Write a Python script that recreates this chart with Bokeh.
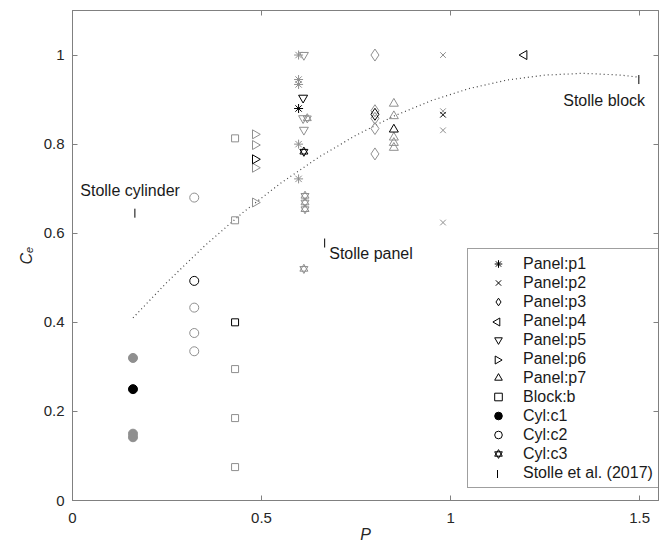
import numpy as np
from bokeh.plotting import figure
from bokeh.models import (Range1d, LinearAxis, Legend, LegendItem, Label,
                          FixedTicker, CustomJSTickFormatter)
from bokeh.embed import file_html
from bokeh.resources import INLINE

FONT = "Liberation Sans"
GRAY = "#8f8f8f"
BLACK = "#000000"
AXC = "#808080"

# ---------------- data ----------------
x_ticks = [0, 0.5, 1, 1.5]
x_tick_labels = ["0", "0.5", "1", "1.5"]
y_ticks = [0, 0.2, 0.4, 0.6, 0.8, 1.0]
y_tick_labels = ["0", "0.2", "0.4", "0.6", "0.8", "1"]

# Panel:p1 (asterisk)
p1_x = [0.598, 0.598, 0.598, 0.598, 0.598]
p1_y = [1.0, 0.945, 0.934, 0.80, 0.722]
p1_mx = [0.598]
p1_my = [0.88]
# Panel:p2 (x)
p2_x = [0.98, 0.98, 0.98, 0.98]
p2_y = [1.0, 0.874, 0.831, 0.624]
p2_mx = [0.98]
p2_my = [0.866]
# Panel:p3 (diamond)
p3_x = [0.80, 0.80, 0.80, 0.80, 0.80]
p3_y = [1.0, 0.875, 0.858, 0.835, 0.778]
p3_mx = [0.80]
p3_my = [0.867]
# Panel:p4 (left triangle)
p4_mx = [1.195]
p4_my = [1.0]
# Panel:p5 (down triangle)
p5_x = [0.612, 0.610, 0.612]
p5_y = [1.0, 0.858, 0.832]
p5_mx = [0.610]
p5_my = [0.904]
# Panel:p6 (right triangle)
p6_x = [0.483, 0.483, 0.483, 0.483]
p6_y = [0.822, 0.798, 0.747, 0.669]
p6_mx = [0.483]
p6_my = [0.766]
# Panel:p7 (up triangle)
p7_x = [0.85, 0.85, 0.85, 0.85, 0.85]
p7_y = [0.891, 0.863, 0.815, 0.803, 0.792]
p7_mx = [0.85]
p7_my = [0.833]
# Block:b (square)
b_x = [0.43, 0.43, 0.43, 0.43, 0.43]
b_y = [0.813, 0.629, 0.295, 0.185, 0.075]
b_mx = [0.43]
b_my = [0.40]
# Cyl:c1 (filled circle)
c1_x = [0.16, 0.16, 0.16]
c1_y = [0.32, 0.15, 0.142]
c1_mx = [0.16]
c1_my = [0.25]
# Cyl:c2 (open circle)
c2_x = [0.322, 0.322, 0.322, 0.322]
c2_y = [0.68, 0.433, 0.376, 0.335]
c2_mx = [0.322]
c2_my = [0.493]
# Cyl:c3 (hexagram)
c3_x = [0.621, 0.615, 0.615, 0.615, 0.612]
c3_y = [0.858, 0.684, 0.669, 0.654, 0.52]
c3_mx = [0.612]
c3_my = [0.783]
# Stolle et al. (2017)
st_x = [0.165, 0.667, 1.498]
st_y = [0.645, 0.578, 0.945]
st_names = ["Stolle cylinder", "Stolle panel", "Stolle block"]
# Stolle curve
curve_x = [0.16, 0.25, 0.35, 0.45, 0.55, 0.65, 0.75, 0.85, 0.95, 1.05, 1.15, 1.25, 1.35, 1.45, 1.5]
curve_y = [0.41, 0.49, 0.572, 0.646, 0.712, 0.77, 0.82, 0.863, 0.898, 0.925, 0.944, 0.955, 0.959, 0.955, 0.95]

# ---------------- layout constants ----------------
BL, BR, BT, BB = 72, 4, 10, 46
FW, FH = 586, 490

p = figure(frame_width=FW, frame_height=FH, x_range=Range1d(0, 1.55), y_range=Range1d(0, 1.1),
           output_backend="svg", toolbar_location=None,
           min_border_left=BL, min_border_right=BR, min_border_top=BT, min_border_bottom=BB)
p.xgrid.visible = False
p.ygrid.visible = False
p.outline_line_color = AXC
p.background_fill_color = "white"
p.border_fill_color = "white"
p.extra_x_ranges = {"px": Range1d(0, FW)}
p.extra_y_ranges = {"py": Range1d(0, FH)}


def style_axis(ax, ticks, labels):
    ax.ticker = FixedTicker(ticks=ticks)
    ax.major_label_overrides = {t: l for t, l in zip(ticks, labels)}
    ax.axis_line_color = AXC
    ax.major_tick_line_color = AXC
    ax.major_tick_in = 5
    ax.major_tick_out = 0
    ax.minor_tick_line_color = None
    ax.major_label_text_font = FONT
    ax.major_label_text_font_size = "15px"
    ax.major_label_text_color = "#262626"
    ax.axis_label_text_font = FONT
    ax.axis_label_text_font_size = "16px"
    ax.axis_label_text_font_style = "italic"
    ax.axis_label_text_color = "#262626"


style_axis(p.xaxis[0], x_ticks, x_tick_labels)
style_axis(p.yaxis[0], y_ticks, y_tick_labels)
p.xaxis[0].axis_label = "P"
p.yaxis[0].axis_label = "C\u2091"
p.xaxis[0].major_label_standoff = 12
p.yaxis[0].major_label_standoff = 8
p.xaxis[0].axis_label_standoff = 0
p.yaxis[0].axis_label_standoff = 6

for loc, ticks in (("above", x_ticks), ("right", y_ticks)):
    ax = LinearAxis(ticker=FixedTicker(ticks=ticks),
                    formatter=CustomJSTickFormatter(code="return ''"))
    ax.axis_line_color = AXC
    ax.major_tick_line_color = AXC
    ax.major_tick_in = 5
    ax.major_tick_out = 0
    ax.minor_tick_line_color = None
    ax.major_label_text_font_size = "1px"
    ax.major_label_standoff = 0
    p.add_layout(ax, loc)

# Stolle curve
p.line(curve_x, curve_y, line_dash="1 3", line_color="#444444", line_width=1.2)

S = 9
common_g = dict(line_color=GRAY, fill_color=None, line_width=1)
common_k = dict(line_color=BLACK, fill_color=None, line_width=1)
hidden = dict(line_alpha=0, fill_alpha=0)

p.scatter(p1_x, p1_y, marker="asterisk", size=S, **common_g)
r_p1 = p.scatter(p1_mx, p1_my, marker="asterisk", size=S, **common_k)
p.scatter(p2_x, p2_y, marker="x", size=8, **common_g)
r_p2 = p.scatter(p2_mx, p2_my, marker="x", size=8, **common_k)
p.scatter(p3_x, p3_y, marker="diamond", size=12, **common_g)
r_p3 = p.scatter(p3_mx, p3_my, marker="diamond", size=12, **common_k)
p.scatter(p4_mx, p4_my, marker="triangle", angle=np.pi / 2, size=S, **common_k)
r_p4 = p.scatter(p4_mx, p4_my, marker="circle", size=1, **hidden)
p.scatter(p5_x, p5_y, marker="inverted_triangle", size=S, **common_g)
r_p5 = p.scatter(p5_mx, p5_my, marker="inverted_triangle", size=S, **common_k)
p.scatter(p6_x, p6_y, marker="triangle", angle=-np.pi / 2, size=S, **common_g)
p.scatter(p6_mx, p6_my, marker="triangle", angle=-np.pi / 2, size=S, **common_k)
r_p6 = p.scatter(p6_mx, p6_my, marker="circle", size=1, **hidden)
p.scatter(p7_x, p7_y, marker="triangle", size=S, **common_g)
r_p7 = p.scatter(p7_mx, p7_my, marker="triangle", size=S, **common_k)
p.scatter(b_x, b_y, marker="square", size=7, **common_g)
r_b = p.scatter(b_mx, b_my, marker="square", size=7, **common_k)
p.scatter(c1_x, c1_y, marker="circle", size=9, line_color=GRAY, fill_color=GRAY)
r_c1 = p.scatter(c1_mx, c1_my, marker="circle", size=9, line_color=BLACK, fill_color=BLACK)
p.scatter(c2_x, c2_y, marker="circle", size=9, **common_g)
r_c2 = p.scatter(c2_mx, c2_my, marker="circle", size=9, **common_k)
p.scatter(c3_x, c3_y, marker="triangle", size=8, **common_g)
p.scatter(c3_x, c3_y, marker="inverted_triangle", size=8, **common_g)
r_c3a = p.scatter(c3_mx, c3_my, marker="triangle", size=8, **common_k)
r_c3b = p.scatter(c3_mx, c3_my, marker="inverted_triangle", size=8, **common_k)
p.scatter(st_x, st_y, marker="dash", angle=np.pi / 2, size=9, line_color=BLACK, line_width=1)
r_st = p.scatter(st_x[:1], st_y[:1], marker="circle", size=1, **hidden)

# Stolle text labels
lab_x = [0.284, 0.679, 1.298]
lab_y = [0.695, 0.555, 0.897]
lab_align = ["right", "left", "left"]
for name, lx, ly, al in zip(st_names, lab_x, lab_y, lab_align):
    p.add_layout(Label(x=lx, y=ly, text=name, text_align=al, text_baseline="middle",
                       text_font=FONT, text_font_size="16px", text_color="#1a1a1a"))

# ---------------- legend ----------------
legend_labels = ["Panel:p1", "Panel:p2", "Panel:p3", "Panel:p4", "Panel:p5", "Panel:p6",
                 "Panel:p7", "Block:b", "Cyl:c1", "Cyl:c2", "Cyl:c3", "Stolle et al. (2017)"]
legend_rends = [[r_p1], [r_p2], [r_p3], [r_p4], [r_p5], [r_p6], [r_p7], [r_b], [r_c1],
                [r_c2], [r_c3a, r_c3b], [r_st]]
items = [LegendItem(label=l, renderers=r) for l, r in zip(legend_labels, legend_rends)]
ROW, PAD, GW = 19, 5, 50
LX, LY = 395, 12
legend = Legend(items=items, location=(LX, LY))
legend.label_text_font = FONT
legend.label_text_font_size = "16px"
legend.label_text_color = "#1a1a1a"
legend.label_height = ROW
legend.glyph_height = ROW
legend.glyph_width = GW
legend.label_standoff = 0
legend.spacing = 0
legend.padding = PAD
legend.margin = 0
legend.border_line_color = "#404040"
legend.border_line_width = 1
legend.background_fill_alpha = 0
p.add_layout(legend)

# rotated legend glyphs (Bokeh legends always draw markers unrotated)
n_items = len(legend_labels)
LH = 2 * PAD + n_items * ROW
gx = LX + PAD + GW / 2


def row_y(i):
    return LY + LH - PAD - ROW * (i + 0.5)


rot_items = [(3, "triangle", np.pi / 2), (5, "triangle", -np.pi / 2), (11, "dash", np.pi / 2)]
for idx, mk, ang in rot_items:
    p.scatter([gx], [row_y(idx)], marker=mk, angle=ang, size=8, line_color=BLACK,
              fill_color=None, line_width=1, x_range_name="px", y_range_name="py")

open("out.html", "w").write(file_html(p, INLINE))
